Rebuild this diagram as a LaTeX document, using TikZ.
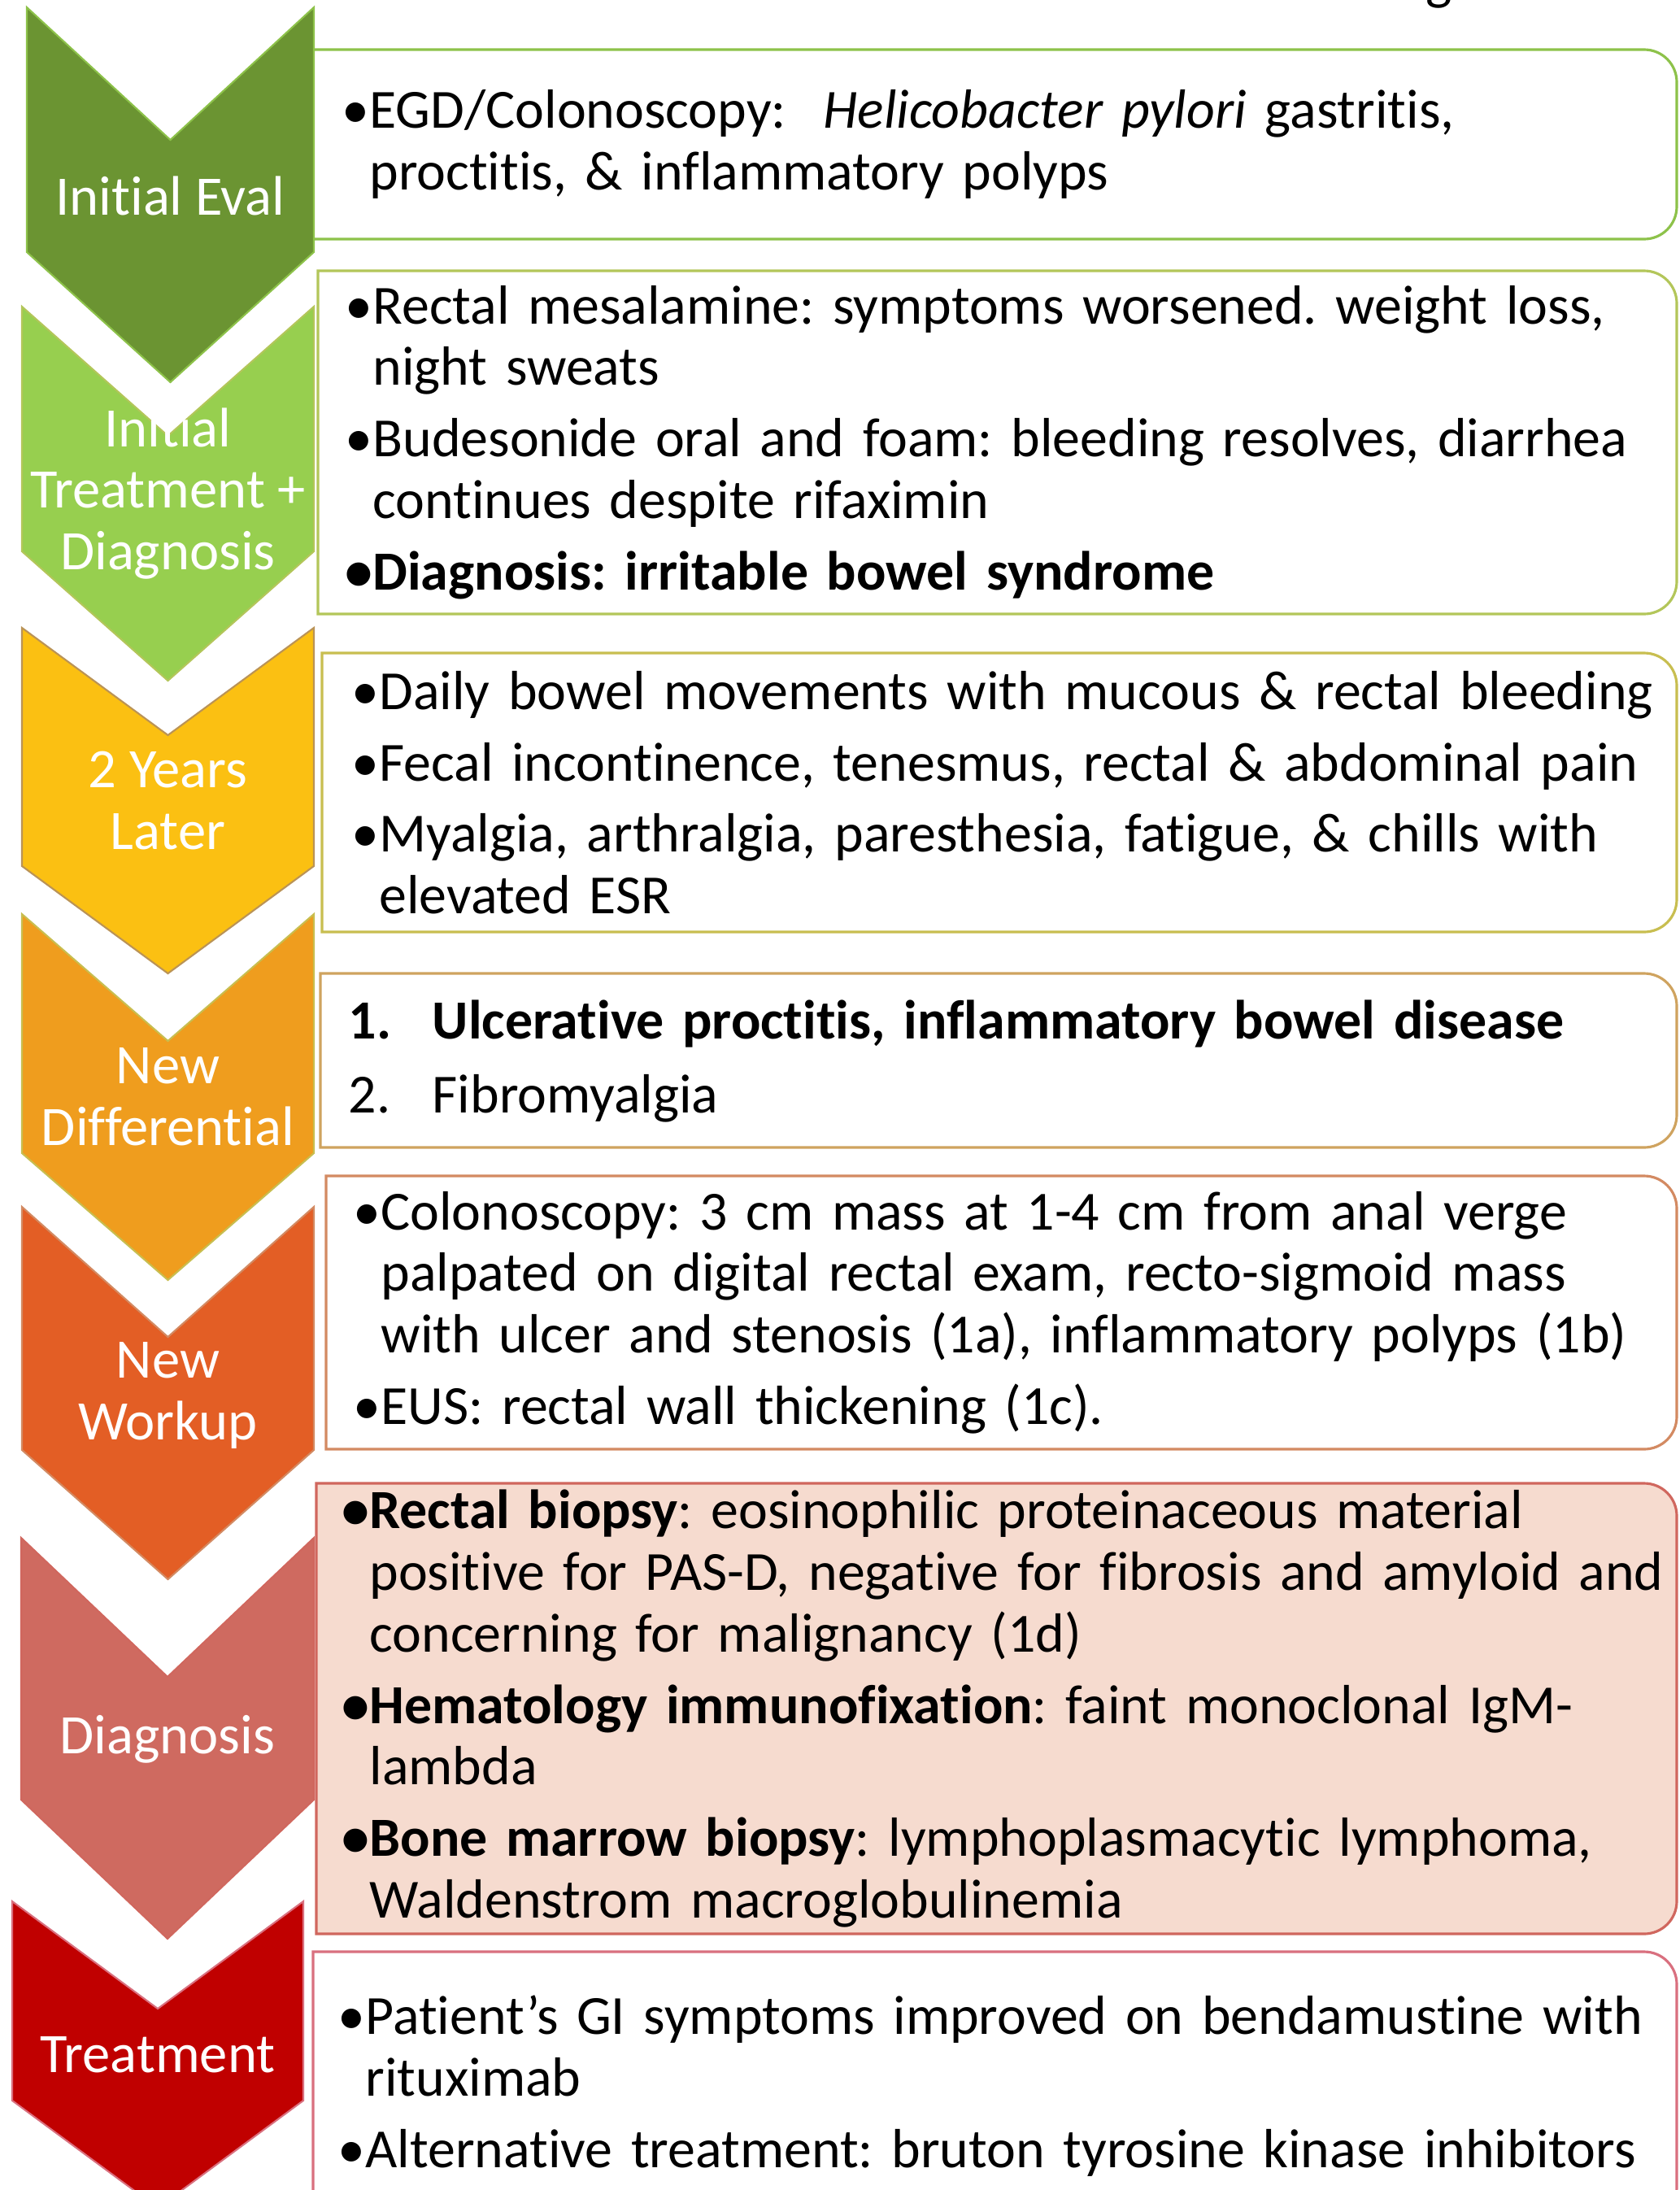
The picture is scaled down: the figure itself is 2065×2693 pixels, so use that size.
\documentclass[tikz,border=0pt]{standalone}
\usepackage{fontspec}
\setmainfont{Carlito}[Ligatures=NoCommon]
\frenchspacing
\definecolor{cvolive}{HTML}{6B9432}
\definecolor{cvlime}{HTML}{97CF4F}
\definecolor{cvgold}{HTML}{FBC012}
\definecolor{cvamber}{HTML}{EF9D1E}
\definecolor{cvrust}{HTML}{E35E25}
\definecolor{cvrose}{HTML}{CF6A60}
\definecolor{cvred}{HTML}{C00000}
\definecolor{lnolive}{HTML}{8DC24A}
\definecolor{lnlime}{HTML}{B3C65A}
\definecolor{lngold}{HTML}{C8BE50}
\definecolor{lnamber}{HTML}{CFA35F}
\definecolor{lnrust}{HTML}{D38A62}
\definecolor{lnrose}{HTML}{D0675E}
\definecolor{lnred}{HTML}{D9707F}
\definecolor{bgrose}{HTML}{F6DBCF}

\begin{document}
\begin{tikzpicture}[x=0.01cm, y=-0.01cm,
      chev/.style={line width=0.6pt, line join=miter},
      tbox/.style={line width=0.9pt, fill=white},
      lbl/.style={text=white, align=center, inner sep=0pt, font=\fontsize{19.5}{21.5}\selectfont},
      txt/.style={anchor=west, align=left, text width=16.6cm, inner sep=0pt, font=\fontsize{19.3}{21.5}\selectfont}]

      \useasboundingbox (0,0) rectangle (2065,2693);

      % text boxes: square on the left, rounded on the right
      \draw[tbox, draw=lnolive] (380,294) -- (380,61) [rounded corners=0.4cm] -- (2062,61) -- (2062,294) [sharp corners] -- cycle;
      \draw[tbox, draw=lnlime] (391,755) -- (391,333) [rounded corners=0.4cm] -- (2062,333) -- (2062,755) [sharp corners] -- cycle;
      \draw[tbox, draw=lngold] (396,1146) -- (396,803) [rounded corners=0.4cm] -- (2062,803) -- (2062,1146) [sharp corners] -- cycle;
      \draw[tbox, draw=lnamber] (394,1411) -- (394,1197) [rounded corners=0.4cm] -- (2062,1197) -- (2062,1411) [sharp corners] -- cycle;
      \draw[tbox, draw=lnrust] (401,1782) -- (401,1446) [rounded corners=0.4cm] -- (2062,1446) -- (2062,1782) [sharp corners] -- cycle;
      \draw[tbox, draw=lnrose, fill=bgrose] (389,2378) -- (389,1824) [rounded corners=0.4cm] -- (2062,1824) -- (2062,2378) [sharp corners] -- cycle;
      \draw[tbox, draw=lnred] (385,2730) -- (385,2400) [rounded corners=0.4cm] -- (2062,2400) -- (2062,2730) [sharp corners] -- cycle;

      % chevrons
      \draw[chev, fill=cvolive, draw=lnolive] (33,9) -- (209.5,172) -- (386,9) -- (386,310) -- (209.5,470) -- (33,310) -- cycle;
      \draw[chev, fill=cvlime, draw=lnlime] (27,377) -- (206.5,536) -- (386,377) -- (386,678) -- (206.5,837) -- (27,678) -- cycle;
      \draw[chev, fill=cvgold, draw=lnamber!90!black] (27,772) -- (206.5,904) -- (386,772) -- (386,1065) -- (206.5,1197) -- (27,1065) -- cycle;
      \draw[chev, fill=cvamber, draw=lngold] (27,1124) -- (206.5,1280) -- (386,1124) -- (386,1418) -- (206.5,1574) -- (27,1418) -- cycle;
      \draw[chev, fill=cvrust, draw=lnrust] (27,1484) -- (206.5,1644) -- (386,1484) -- (386,1783) -- (206.5,1942) -- (27,1783) -- cycle;
      \draw[chev, fill=cvrose, draw=lnrose] (26,1891) -- (206,2062) -- (386,1891) -- (386,2213) -- (206,2384) -- (26,2213) -- cycle;
      \draw[chev, fill=cvred, draw=lnred] (15,2338) -- (194,2470) -- (373,2338) -- (373,2583) -- (194,2715) -- (15,2583) -- cycle;

      \node[lbl] (eval) at (209.5,241) {Initial Eval};
      \node[lbl] (ibs) at (206.5,607) {Initial\\Treatment +\\Diagnosis};
      \node[lbl] (later) at (206.5,984.5) {2 Years\\Later};
      \node[lbl] (ddx) at (206.5,1349) {New\\Differential};
      \node[lbl] (workup) at (206.5,1716) {New\\Workup};
      \node[lbl] (dx) at (206,2139) {Diagnosis};
      \node[lbl] (tx) at (194,2526.5) {Treatment};

      \node[txt] (evaltxt) at (420,177.5) {•EGD/Colonoscopy:\ \ \textit{Helicobacter pylori} gastritis,\\\phantom{•}proctitis, \& inflammatory polyps};
      \node[txt] (ibstxt) at (424,544) {•Rectal mesalamine: symptoms worsened. weight loss,\\\phantom{•}night sweats\\[3.5pt]
        •Budesonide oral and foam: bleeding resolves, diarrhea\\\phantom{•}continues despite rifaximin\\[3.5pt]
        \textbf{•Diagnosis: irritable bowel syndrome}};
      \node[txt] (latertxt) at (432,974.5) {•Daily bowel movements with mucous \& rectal bleeding\\[3.5pt]
        •Fecal incontinence, tenesmus, rectal \& abdominal pain\\[3.5pt]
        •Myalgia, arthralgia, paresthesia, fatigue, \& chills with\\\phantom{•}elevated ESR};
      \node[txt] (ddxtxt) at (428,1305) {\textbf{\makebox[1.03cm][l]{1.}Ulcerative proctitis, inflammatory bowel disease}\\[4.5pt]
        \makebox[1.03cm][l]{2.}Fibromyalgia};
      \node[txt] (workuptxt) at (434,1614) {•Colonoscopy: 3 cm mass at 1-4 cm from anal verge\\\phantom{•}palpated on digital rectal exam, recto-sigmoid mass\\\phantom{•}with ulcer and stenosis (1a), inflammatory polyps (1b)\\[3.5pt]
        •EUS: rectal wall thickening (1c).};
      \node[txt] (dxtxt) at (420,2101) {\textbf{•Rectal biopsy}: eosinophilic proteinaceous material\\\phantom{•}positive for PAS-D, negative for fibrosis and amyloid and\\\phantom{•}concerning for malignancy (1d)\\[3.5pt]
        \textbf{•Hematology immunofixation}: faint monoclonal IgM-\\\phantom{•}lambda\\[3.5pt]
        \textbf{•Bone marrow biopsy}: lymphoplasmacytic lymphoma,\\\phantom{•}Waldenstrom macroglobulinemia};
      \node[txt] (txtxt) at (415,2565) {•Patient’s GI symptoms improved on bendamustine with\\\phantom{•}rituximab\\[3.5pt]
        •Alternative treatment: bruton tyrosine kinase inhibitors};

      % tail of a cut-off heading
      \node[anchor=base, inner sep=0pt, font=\fontsize{19.5}{21.5}\selectfont] (head) at (1770,-2) {g};
    \end{tikzpicture}
\end{document}
